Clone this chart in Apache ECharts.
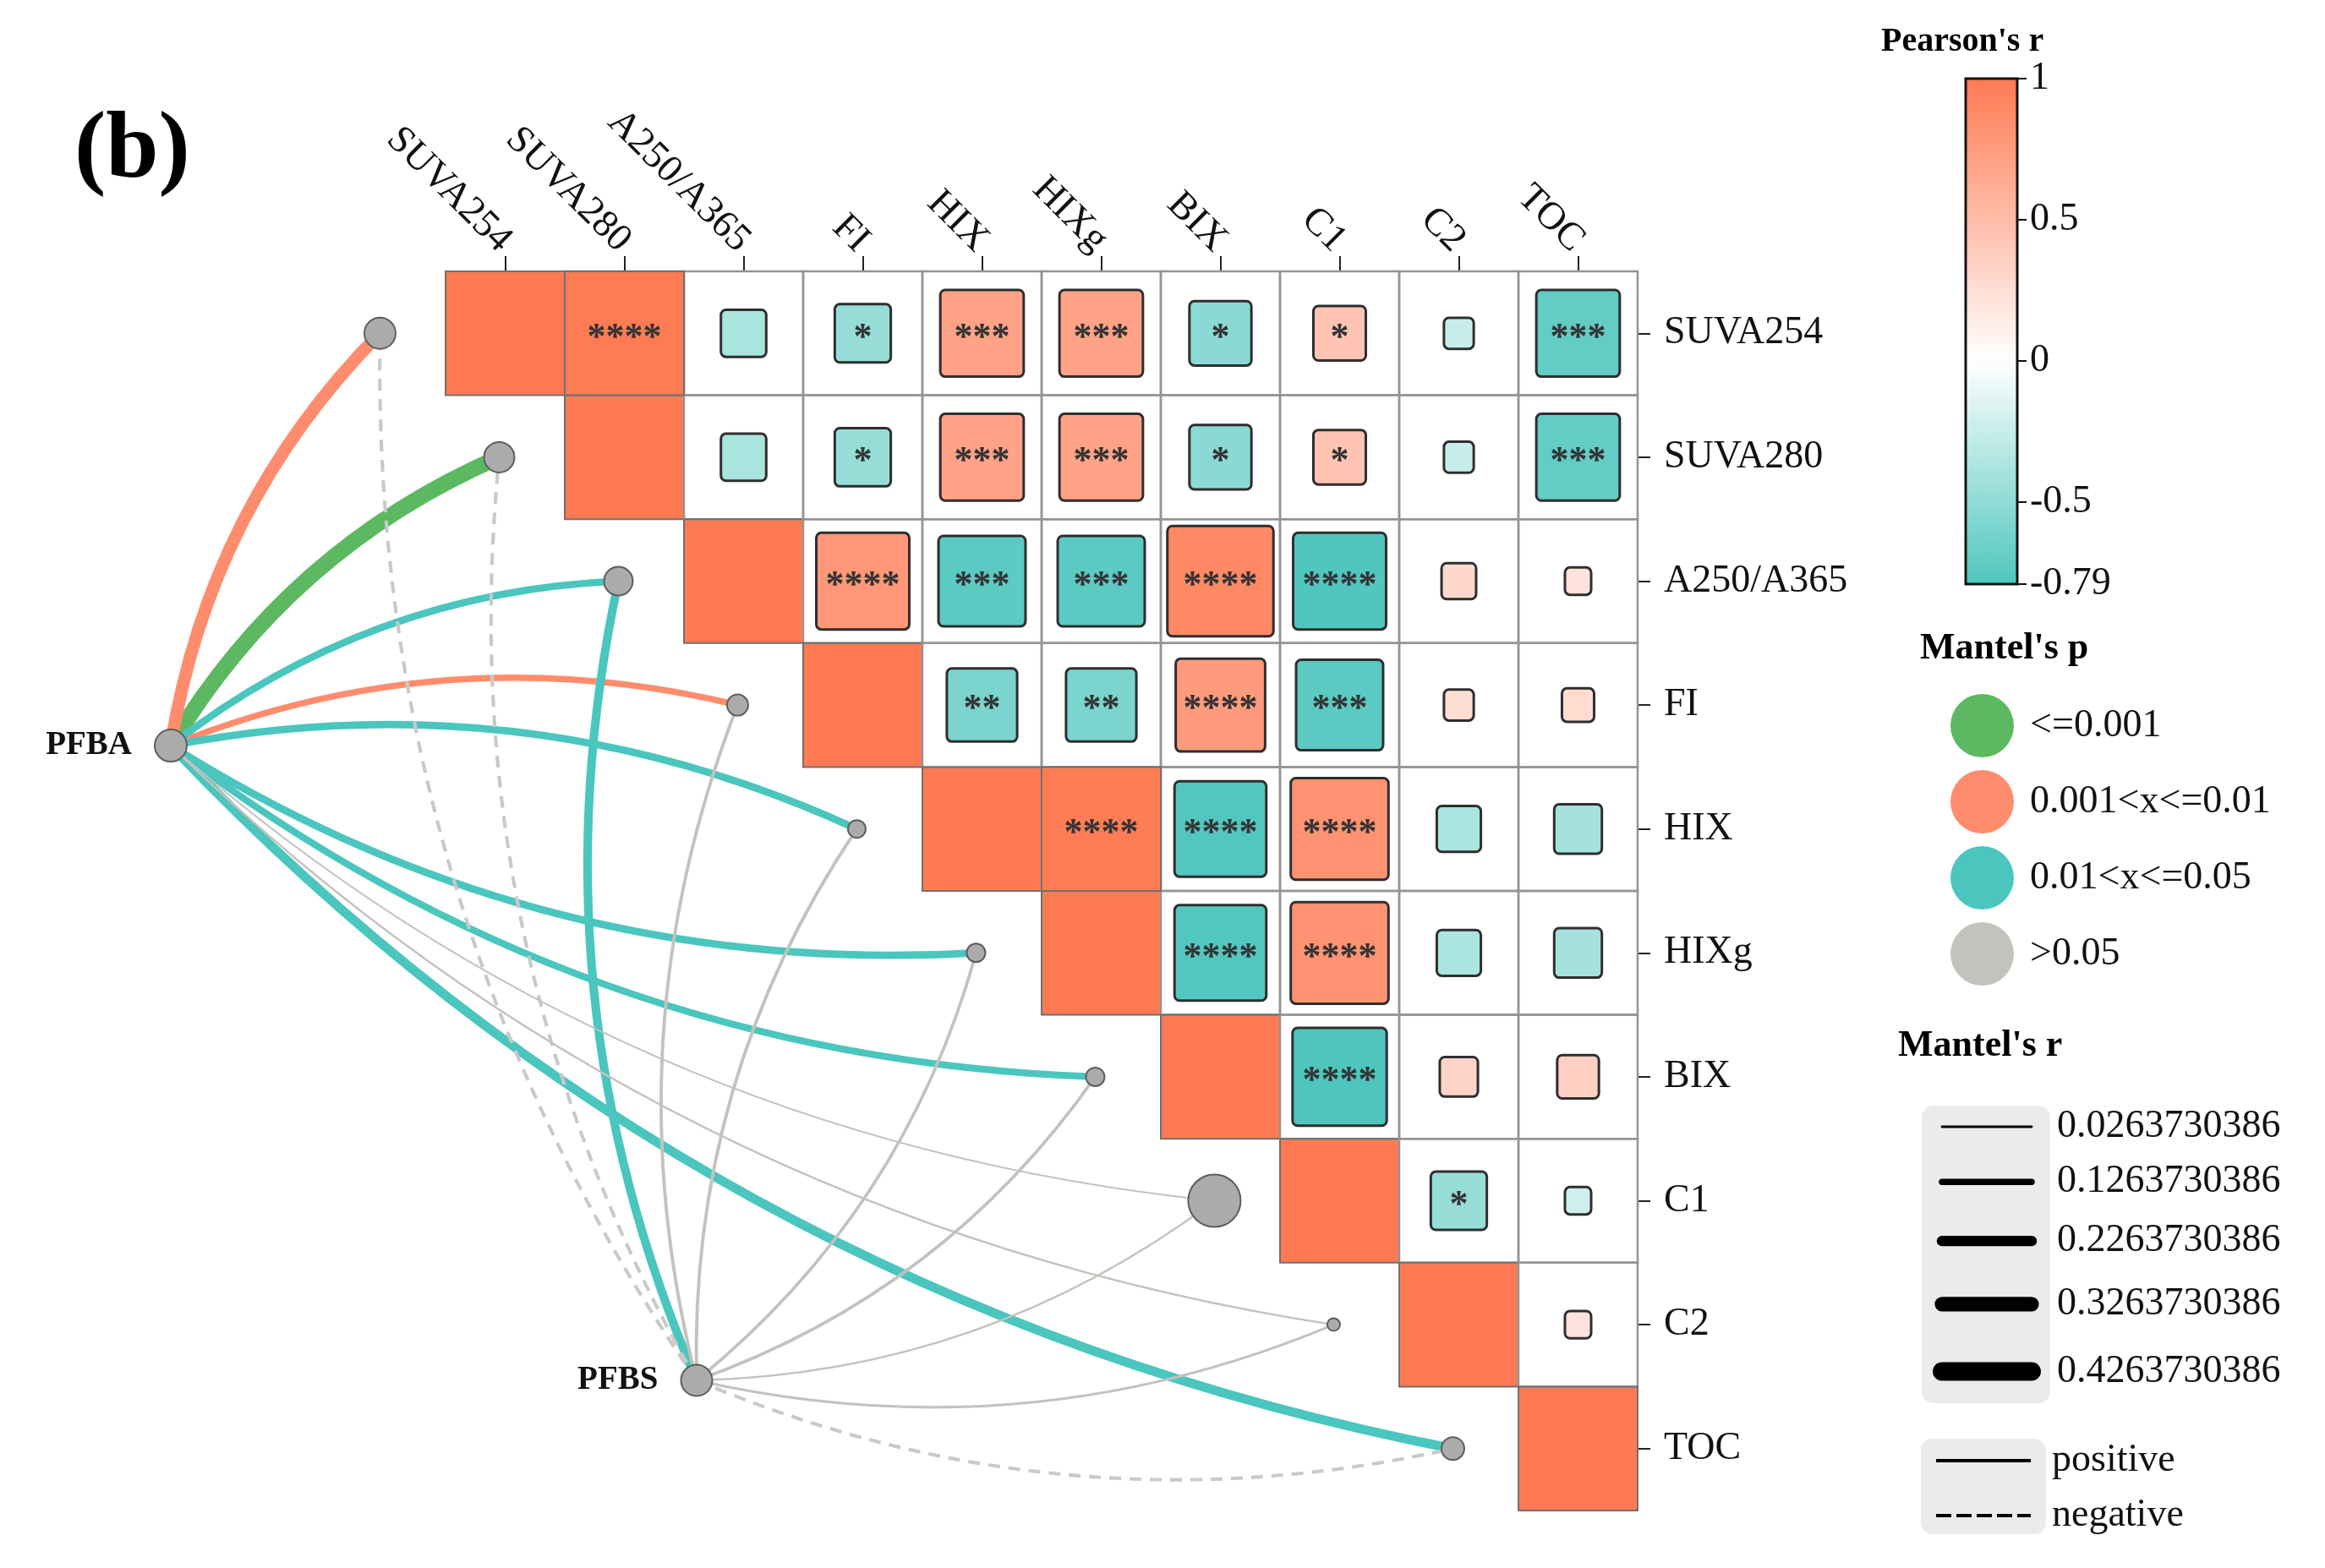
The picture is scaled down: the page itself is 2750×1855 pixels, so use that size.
<!DOCTYPE html>
<html><head><meta charset="utf-8">
<script src="https://cdn.jsdelivr.net/npm/echarts@6/dist/echarts.min.js"></script>
<style>html,body{margin:0;padding:0;background:#fff}#chart{width:2750px;height:1855px}</style>
</head><body><div id="chart"></div>
<script>
// ---------------- data ----------------
const envVars = ['SUVA254', 'SUVA280', 'A250/A365', 'FI', 'HIX', 'HIXg', 'BIX', 'C1', 'C2', 'TOC'];
const pearsonR = [
  [1, 0.99, -0.38, -0.47, 0.70, 0.70, -0.52, 0.44, -0.25, -0.70],
  [null, 1, -0.38, -0.47, 0.70, 0.70, -0.52, 0.44, -0.25, -0.70],
  [null, null, 1, 0.78, -0.73, -0.73, 0.89, -0.78, 0.29, 0.22],
  [null, null, null, 1, -0.59, -0.59, 0.75, -0.73, 0.25, 0.27],
  [null, null, null, null, 1, 0.98, -0.77, 0.82, -0.37, -0.40],
  [null, null, null, null, null, 1, -0.77, 0.82, -0.37, -0.40],
  [null, null, null, null, null, null, 1, -0.79, 0.32, 0.35],
  [null, null, null, null, null, null, null, 1, -0.47, -0.22],
  [null, null, null, null, null, null, null, null, 1, 0.22],
  [null, null, null, null, null, null, null, null, null, 1]
];
const pearsonStars = [
  ['', '****', '', '*', '***', '***', '*', '*', '', '***'],
  ['', '', '', '*', '***', '***', '*', '*', '', '***'],
  ['', '', '', '****', '***', '***', '****', '****', '', ''],
  ['', '', '', '', '**', '**', '****', '***', '', ''],
  ['', '', '', '', '', '****', '****', '****', '', ''],
  ['', '', '', '', '', '', '****', '****', '', ''],
  ['', '', '', '', '', '', '', '****', '', ''],
  ['', '', '', '', '', '', '', '', '*', ''],
  ['', '', '', '', '', '', '', '', '', ''],
  ['', '', '', '', '', '', '', '', '', '']
];
const pollutants = ['PFBA', 'PFBS'];
const mantelR_PFBA = [0.28, 0.36, 0.15, 0.12, 0.15, 0.15, 0.14, 0.01, 0.02, 0.20];
const mantelP_PFBA = ['0.001<x<=0.01', '<=0.001', '0.01<x<=0.05', '0.001<x<=0.01', '0.01<x<=0.05',
                      '0.01<x<=0.05', '0.01<x<=0.05', '>0.05', '>0.05', '0.01<x<=0.05'];
const mantelR_PFBS = [-0.055, -0.055, 0.18, 0.05, 0.05, 0.045, 0.045, 0.015, 0.035, -0.055];
const mantelP_PFBS = ['>0.05', '>0.05', '0.01<x<=0.05', '>0.05', '>0.05',
                      '>0.05', '>0.05', '>0.05', '>0.05', '>0.05'];
const endNodeSize = [37, 36, 34, 25, 21, 22, 22, 62, 15, 27];
const sourceNodeSize = [38, 37];
const pClasses = ['<=0.001', '0.001<x<=0.01', '0.01<x<=0.05', '>0.05'];
const mantelRBreaks = [0.0263730386, 0.1263730386, 0.2263730386, 0.3263730386, 0.4263730386];
const colorbarTicks = [1, 0.5, 0, -0.5, -0.79];

// ---------------- styles / layout ----------------
const FONT = 'Liberation Serif';
const pClassColors = ['#5DB961', '#FF8C6D', '#4AC6BE', '#C4C2BD'];
const COL_NEG = [78, 198, 189], COL_MID = [255, 255, 255], COL_POS = [255, 122, 82];
const R_MIN = -0.79, R_MAX = 1;
function rColor(r) {
  const b = r >= 0 ? COL_POS : COL_NEG;
  const t = Math.min(r >= 0 ? r / R_MAX : r / R_MIN, 1);
  return 'rgb(' + COL_MID.map((v, k) => Math.round(v + (b[k] - v) * t)).join(',') + ')';
}
function mantelWidth(r) { return 1.5 + 48 * Math.abs(r); }
const sourceAnchor = [[-2.305, 3.827], [2.106, 8.95]];   // layout anchors of PFBA / PFBS (axis units)
const endOffsetX = -0.55;                                 // link end node sits left of the diagonal cell
const CURV = 0.16;

const tickVals = envVars.map((_, i) => i + 0.5);

const cellData = [];
for (let i = 0; i < envVars.length; i++) {
  for (let j = i; j < envVars.length; j++) {
    cellData.push([j, i, pearsonR[i][j], pearsonStars[i][j]]);
  }
}

const linkSets = pClasses.map(() => []);
envVars.forEach((_, i) => {
  linkSets[pClasses.indexOf(mantelP_PFBA[i])].push([0, i, mantelR_PFBA[i]]);
  linkSets[pClasses.indexOf(mantelP_PFBS[i])].push([1, i, mantelR_PFBS[i]]);
});

function cellRect(api) {
  const j = api.value(0), i = api.value(1);
  const a = api.coord([j, i]), b = api.coord([j + 1, i + 1]);
  return { x: a[0], y: a[1], width: b[0] - a[0], height: b[1] - a[1] };
}

const series = [];
series.push({
  type: 'custom', xAxisIndex: 0, yAxisIndex: 0, z: 1, data: cellData,
  renderItem: (params, api) => {
    const s = cellRect(api);
    const diag = api.value(0) === api.value(1);
    return { type: 'rect', shape: s, style: { fill: diag ? rColor(1) : '#ffffff' } };
  }
});
series.push({
  type: 'custom', xAxisIndex: 0, yAxisIndex: 0, z: 2, data: cellData,
  renderItem: (params, api) => {
    const s = cellRect(api);
    const diag = api.value(0) === api.value(1);
    return { type: 'rect', shape: s, style: { fill: 'none', stroke: diag ? '#707070' : '#949494', lineWidth: diag ? 2 : 2.5 } };
  }
});
series.push({
  type: 'custom', xAxisIndex: 0, yAxisIndex: 0, z: 3, data: cellData,
  renderItem: (params, api) => {
    const j = api.value(0), i = api.value(1);
    if (i === j) return null;
    const r = cellData[params.dataIndex][2];
    const star = cellData[params.dataIndex][3];
    const s = cellRect(api);
    const cx = s.x + s.width / 2, cy = s.y + s.height / 2;
    const f = Math.abs(r);
    const children = [];
    if (f >= 0.98) {
      children.push({ type: 'rect', shape: s, style: { fill: rColor(r), stroke: '#707070', lineWidth: 2 } });
    } else {
      const w = s.width * f, h = s.height * f;
      children.push({ type: 'rect', shape: { x: cx - w / 2, y: cy - h / 2, width: w, height: h, r: 6 },
        style: { fill: rColor(r), stroke: '#2e2e2e', lineWidth: 3 } });
    }
    if (star) {
      children.push({ type: 'text', x: cx, y: cy + 6,
        style: { text: star, fill: '#333', fontSize: 44, fontFamily: FONT, fontWeight: 'bold', align: 'center', verticalAlign: 'middle' } });
    }
    return { type: 'group', children };
  }
});
pClasses.forEach((cls, c) => {
  series.push({
    type: 'custom', name: cls, xAxisIndex: 0, yAxisIndex: 0, z: 4, data: linkSets[c],
    itemStyle: { color: pClassColors[c] },
    renderItem: (params, api) => {
      const src = api.value(0), i = api.value(1), r = api.value(2);
      const p0 = api.coord(sourceAnchor[src]);
      const p2 = api.coord([i + endOffsetX, i + 0.5]);
      const dx = p2[0] - p0[0], dy = p2[1] - p0[1];
      const sgn = i < envVars.length / 2 ? 1 : -1;
      const cpx = (p0[0] + p2[0]) / 2 + sgn * CURV * dy;
      const cpy = (p0[1] + p2[1]) / 2 - sgn * CURV * dx;
      return { type: 'bezierCurve',
        shape: { x1: p0[0], y1: p0[1], x2: p2[0], y2: p2[1], cpx1: cpx, cpy1: cpy },
        style: { fill: 'none', stroke: r < 0 ? '#C9C9C9' : pClassColors[c], lineWidth: mantelWidth(r), lineDash: r < 0 ? [14, 10] : null } };
    }
  });
});
series.push({
  type: 'scatter', xAxisIndex: 0, yAxisIndex: 0, z: 6, symbol: 'circle',
  data: envVars.map((n, i) => ({ value: [i + endOffsetX, i + 0.5], symbolSize: endNodeSize[i] })),
  itemStyle: { color: '#ABABAB', borderColor: '#5e5e5e', borderWidth: 2, opacity: 1 },
  silent: true
});
series.push({
  type: 'scatter', xAxisIndex: 0, yAxisIndex: 0, z: 6, symbol: 'circle',
  data: pollutants.map((n, k) => ({ name: n, value: sourceAnchor[k], symbolSize: sourceNodeSize[k] })),
  itemStyle: { color: '#ABABAB', borderColor: '#5e5e5e', borderWidth: 2, opacity: 1 },
  label: { show: true, position: 'left', distance: 26, formatter: '{b}', fontFamily: FONT, fontSize: 39, fontWeight: 'bold', color: '#111' },
  silent: true
});
series.push({
  type: 'custom', xAxisIndex: 1, yAxisIndex: 1, z: 2, data: [[0]],
  renderItem: (params, api) => {
    const a = api.coord([0, R_MAX]), b = api.coord([1, R_MIN]);
    const stops = [];
    const n = 40;
    for (let k = 0; k <= n; k++) {
      const v = R_MAX - (R_MAX - R_MIN) * k / n;
      stops.push({ offset: k / n, color: rColor(v) });
    }
    return { type: 'rect', shape: { x: a[0], y: a[1], width: b[0] - a[0], height: b[1] - a[1] },
      style: { fill: new echarts.graphic.LinearGradient(0, 0, 0, 1, stops), stroke: '#111', lineWidth: 3 } };
  }
});

const gEls = [];
gEls.push({ type: 'rect', shape: { x: 2273, y: 1308, width: 152, height: 352, r: 14 }, style: { fill: '#EBEBEB' } });
let ly = 1333;
mantelRBreaks.forEach((v, k) => {
  if (k > 0) ly += 60 + (mantelWidth(mantelRBreaks[k - 1]) + mantelWidth(v)) / 2;
  gEls.push({ type: 'line', shape: { x1: 2297, y1: ly, x2: 2403, y2: ly },
    style: { stroke: '#000', lineWidth: mantelWidth(v), lineCap: 'round' } });
  gEls.push({ type: 'text', x: 2433, y: ly, style: { text: v.toFixed(10), fontFamily: FONT, fontSize: 46, fill: '#111', verticalAlign: 'middle' } });
});
gEls.push({ type: 'rect', shape: { x: 2272, y: 1702, width: 148, height: 113, r: 14 }, style: { fill: '#EBEBEB' } });
gEls.push({ type: 'line', shape: { x1: 2290, y1: 1728, x2: 2402, y2: 1728 }, style: { stroke: '#000', lineWidth: 4 } });
gEls.push({ type: 'line', shape: { x1: 2290, y1: 1793, x2: 2402, y2: 1793 }, style: { stroke: '#000', lineWidth: 4, lineDash: [18, 6] } });
gEls.push({ type: 'text', x: 2427, y: 1728, style: { text: 'positive', fontFamily: FONT, fontSize: 46, fill: '#111', verticalAlign: 'middle' } });
gEls.push({ type: 'text', x: 2427, y: 1793, style: { text: 'negative', fontFamily: FONT, fontSize: 46, fill: '#111', verticalAlign: 'middle' } });

const labelStyle = { fontFamily: FONT, fontSize: 46, color: '#111' };
const option = {
  backgroundColor: '#ffffff',
  animation: false,
  title: [
    { text: '(b)', left: 88, top: 124, padding: 0, textStyle: { fontFamily: FONT, fontSize: 112, fontWeight: 'bold', color: '#000' } },
    { text: "Pearson's r", left: 2225, top: 30, padding: 0, textStyle: { fontFamily: FONT, fontSize: 40, fontWeight: 'bold', color: '#000' } },
    { text: "Mantel's p", left: 2271, top: 746, padding: 0, textStyle: { fontFamily: FONT, fontSize: 44, fontWeight: 'bold', color: '#000' } },
    { text: "Mantel's r", left: 2245, top: 1216, padding: 0, textStyle: { fontFamily: FONT, fontSize: 44, fontWeight: 'bold', color: '#000' } }
  ],
  legend: {
    orient: 'vertical', left: 2302, top: 816, itemWidth: 75, itemHeight: 75, itemGap: 15,
    icon: 'circle', selectedMode: false, data: pClasses,
    textStyle: { fontFamily: FONT, fontSize: 46, color: '#111', padding: [0, 0, 0, 14] }
  },
  grid: [
    { left: 104, top: 321, width: 1833, height: 1466, containLabel: false, outerBoundsMode: 'none' },
    { left: 2325, top: 93, width: 61, height: 598, containLabel: false, outerBoundsMode: 'none' }
  ],
  xAxis: [
    { type: 'value', gridIndex: 0, position: 'top', min: -3, max: 10,
      axisLine: { show: false }, splitLine: { show: false }, minorTick: { show: false },
      axisTick: { show: true, customValues: tickVals, length: 18, lineStyle: { color: '#222', width: 2 } },
      axisLabel: Object.assign({ show: true, customValues: tickVals, rotate: -45, margin: 30,
        formatter: v => envVars[Math.floor(v)] }, labelStyle) },
    { type: 'value', gridIndex: 1, min: 0, max: 1, show: false }
  ],
  yAxis: [
    { type: 'value', gridIndex: 0, position: 'right', inverse: true, min: 0, max: 10,
      axisLine: { show: false, onZero: false }, splitLine: { show: false }, minorTick: { show: false },
      axisTick: { show: true, customValues: tickVals, length: 15, lineStyle: { color: '#222', width: 2 } },
      axisLabel: Object.assign({ show: true, customValues: tickVals, margin: 31,
        formatter: v => envVars[Math.floor(v)] }, labelStyle) },
    { type: 'value', gridIndex: 1, position: 'right', min: R_MIN, max: R_MAX,
      axisLine: { show: false, onZero: false }, splitLine: { show: false },
      axisTick: { show: true, customValues: colorbarTicks, length: 11, lineStyle: { color: '#111', width: 2 } },
      axisLabel: Object.assign({ show: true, customValues: colorbarTicks, margin: 15,
        formatter: v => String(v) }, labelStyle) }
  ],
  graphic: { elements: gEls },
  series
};
const chart = echarts.init(document.getElementById('chart'), null, { renderer: 'canvas' });
chart.setOption(option);
</script>
</body></html>
